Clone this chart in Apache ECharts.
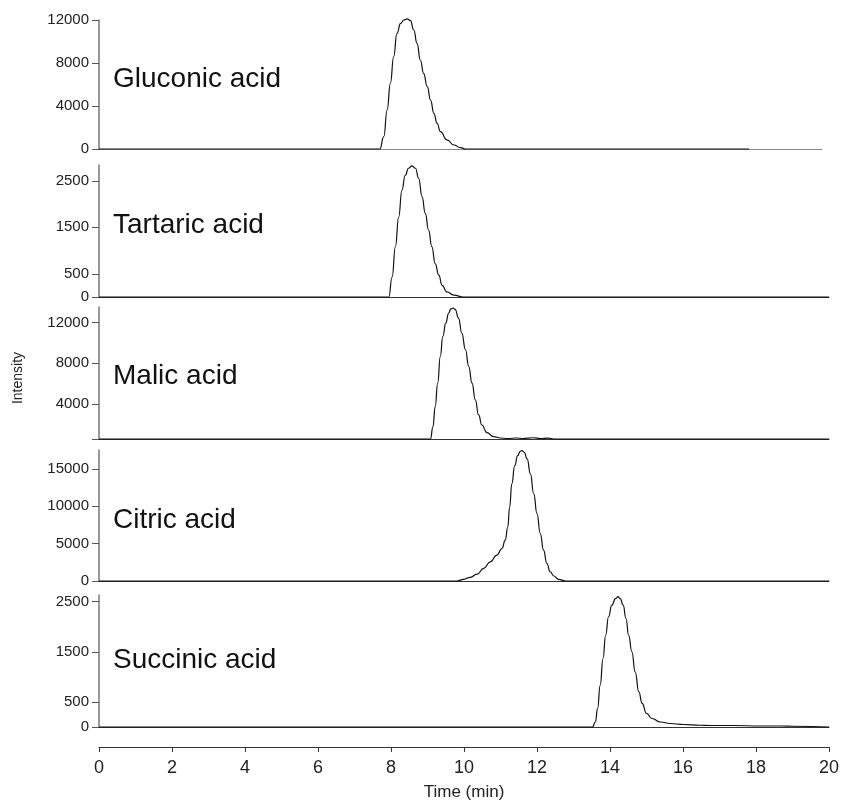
<!DOCTYPE html>
<html>
<head>
<meta charset="utf-8">
<script src="https://cdn.jsdelivr.net/npm/echarts@6.0.0/dist/echarts.min.js"></script>
<style>
	html, body { margin: 0; padding: 0; background: #fff; }
	#main { width: 841px; height: 802px; }
</style>
</head>
<body>
<div id="main"></div>
<script>
//峰的数据 (time in min, intensity)
var gluconicTime = [0, 7.69, 7.80, 7.89, 7.98, 8.07, 8.16, 8.26, 8.35, 8.44, 8.53, 8.62, 8.71, 8.80, 8.89, 8.99, 9.08, 9.17, 9.26, 9.35, 9.53, 9.72, 9.90, 10.04, 17.8];
var gluconicValue = [0, 0, 1150, 3630, 6110, 8590, 10760, 11690, 12000, 12100, 11940, 11070, 9830, 8280, 7040, 5800, 4560, 3320, 2390, 1610, 840, 370, 120, 0, 0];

var tartaricTime = [0, 7.94, 8.03, 8.12, 8.21, 8.30, 8.39, 8.48, 8.57, 8.67, 8.76, 8.85, 8.94, 9.03, 9.12, 9.21, 9.31, 9.40, 9.53, 9.72, 9.99, 20];
var tartaricValue = [0, 0, 430, 1080, 1720, 2300, 2620, 2770, 2820, 2770, 2550, 2160, 1800, 1440, 1080, 720, 470, 250, 110, 40, 0, 0];

var malicTime = [0, 9.08, 9.15, 9.21, 9.28, 9.35, 9.42, 9.50, 9.58, 9.64, 9.70, 9.76, 9.85, 9.94, 10.04, 10.13, 10.22, 10.31, 10.40, 10.49, 10.63, 10.81, 11.00, 11.18, 11.45, 11.6, 11.9, 12.1, 12.3, 12.46, 20];
var malicValue = [600, 600, 1810, 3770, 6060, 8670, 10630, 11940, 12920, 13320, 13410, 13250, 12430, 10960, 9330, 7690, 6060, 4420, 2950, 1970, 1220, 830, 700, 650, 700, 640, 720, 650, 690, 600, 600];

var citricTime = [0, 9.81, 9.99, 10.17, 10.36, 10.54, 10.72, 10.90, 11.04, 11.13, 11.20, 11.25, 11.31, 11.39, 11.47, 11.54, 11.59, 11.65, 11.73, 11.82, 11.91, 12.00, 12.09, 12.18, 12.27, 12.36, 12.46, 12.59, 12.78, 20];
var citricValue = [0, 0, 230, 490, 930, 1690, 2570, 3460, 4350, 5460, 7230, 9890, 13010, 15450, 16780, 17350, 17440, 17220, 16340, 14340, 11680, 9020, 6350, 4130, 2360, 1240, 670, 230, 0, 0];

var succinicTime = [0, 13.52, 13.60, 13.66, 13.73, 13.81, 13.88, 13.96, 14.05, 14.15, 14.22, 14.28, 14.36, 14.44, 14.51, 14.60, 14.69, 14.79, 14.88, 15.00, 15.15, 15.38, 15.65, 16.02, 16.47, 16.75, 17.39, 18.12, 18.67, 19.03, 20];
var succinicValue = [0, 0, 100, 370, 830, 1370, 1830, 2200, 2430, 2560, 2600, 2560, 2430, 2160, 1830, 1500, 1100, 700, 470, 270, 170, 100, 70, 50, 35, 30, 30, 20, 20, 15, 0];

var names = ['Gluconic acid', 'Tartaric acid', 'Malic acid', 'Citric acid', 'Succinic acid'];
var xTicks = [0, 2, 4, 6, 8, 10, 12, 14, 16, 18, 20];

//y轴刻度
var yTicks = [
	[0, 4000, 8000, 12000],
	[0, 500, 1500, 2500],
	[600, 4000, 8000, 12000],
	[0, 5000, 10000, 15000],
	[0, 500, 1500, 2500]
];
var yLabels = [
	[0, 4000, 8000, 12000],
	[0, 500, 1500, 2500],
	[4000, 8000, 12000],
	[0, 5000, 10000, 15000],
	[0, 500, 1500, 2500]
];
var yMin = [0, 0, 600, 0, 0];
var yMax = [12000, 2840, 13510, 17530, 2634];

function pairs(t, v) {
	var res = [];
	for (var i = 0; i < t.length; i++) {
		res.push([t[i], v[i]]);
	}
	return res;
}

function chromatogram(id) {
	var dom = document.getElementById(id);
	var myChart = echarts.init(dom);

	var series = [ pairs(gluconicTime, gluconicValue), pairs(tartaricTime, tartaricValue),
		pairs(malicTime, malicValue), pairs(citricTime, citricValue), pairs(succinicTime, succinicValue) ];

	var gridTop = [20, 165, 307, 450, 595];
	var gridH = [129, 132, 132, 131, 132];
	var labelY = [81, 227, 378, 522, 662];

	var grids = [], xAxes = [], yAxes = [], lines = [], texts = [];
	for (var i = 0; i < 5; i++) {
		grids.push({
			left : 99,
			right : i == 0 ? 19 : 12,
			top : gridTop[i],
			height : gridH[i],
			outerBoundsMode : 'none'
		});
		xAxes.push({
			type : 'value',
			gridIndex : i,
			min : 0,
			max : i == 0 ? 19.8 : 20,
			axisLine : {
				show : true,
				onZero : false,
				lineStyle : { color : i == 0 ? '#888' : '#333', width : 1 }
			},
			axisTick : { show : false },
			axisLabel : { show : false },
			splitLine : { show : false }
		});
		yAxes.push({
			type : 'value',
			gridIndex : i,
			min : yMin[i],
			max : yMax[i],
			axisLine : {
				show : true,
				onZero : false,
				lineStyle : { color : '#777', width : 1.5 }
			},
			axisTick : {
				show : true,
				length : 7,
				customValues : yTicks[i],
				lineStyle : { color : '#555' }
			},
			axisLabel : {
				customValues : yLabels[i],
				formatter : function (v) { return String(v); },
				fontSize : 15,
				fontFamily : 'Liberation Sans',
				color : '#222',
				margin : 10
			},
			splitLine : { show : false }
		});
		lines.push({
			type : 'line',
			xAxisIndex : i,
			yAxisIndex : i,
			data : series[i],
			showSymbol : false,
			smooth : 0.5,
			smoothMonotone : 'x',
			clip : false,
			lineStyle : { color : '#111', width : 1.2 }
		});
		texts.push({
			type : 'text',
			left : 113,
			top : labelY[i] - 16,
			style : {
				text : names[i],
				font : '28px "Liberation Sans"',
				fill : '#111'
			}
		});
	}

	//底部时间轴
	xAxes.push({
		type : 'value',
		gridIndex : 4,
		position : 'bottom',
		offset : 20,
		min : 0,
		max : 20,
		interval : 2,
		name : 'Time (min)',
		nameLocation : 'middle',
		nameGap : 37,
		nameTextStyle : { fontSize : 17, fontFamily : 'Liberation Sans', color : '#222' },
		axisLine : { show : true, onZero : false, lineStyle : { color : '#333', width : 1 } },
		axisTick : { show : true, length : 5, lineStyle : { color : '#333' } },
		axisLabel : {
			customValues : xTicks,
			fontSize : 18,
			fontFamily : 'Liberation Sans',
			color : '#222',
			margin : 12
		},
		splitLine : { show : false }
	});

	texts.push({
		type : 'text',
		x : 18,
		y : 378,
		rotation : Math.PI / 2,
		style : {
			text : 'Intensity',
			font : '14px "Liberation Sans"',
			fill : '#222',
			align : 'center',
			verticalAlign : 'middle'
		}
	});

	var option = {
		backgroundColor : '#fff',
		animation : false,
		grid : grids,
		xAxis : xAxes,
		yAxis : yAxes,
		graphic : texts,
		series : lines
	};
	myChart.setOption(option, true);
}

chromatogram('main');
</script>
</body>
</html>
